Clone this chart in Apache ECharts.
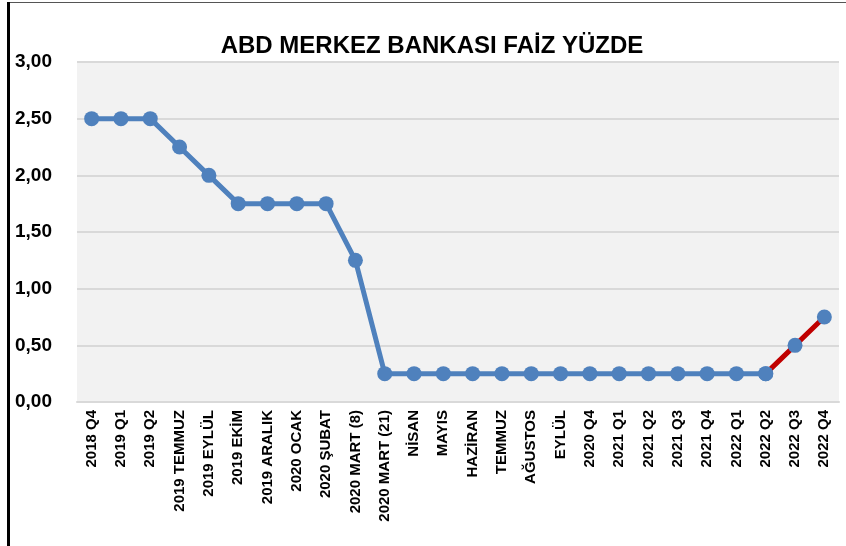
<!DOCTYPE html>
<html>
<head>
<meta charset="utf-8">
<script src="https://cdn.jsdelivr.net/npm/echarts@6/dist/echarts.min.js"></script>
<style>
  html, body { margin: 0; padding: 0; background: #fff; }
  #chart { width: 846px; height: 546px; }
</style>
</head>
<body>
<div id="chart"></div>
<script>
const categories = [
  '2018 Q4', '2019 Q1', '2019 Q2', '2019 TEMMUZ', '2019 EYLÜL', '2019 EKİM',
  '2019 ARALIK', '2020 OCAK', '2020 ŞUBAT', '2020 MART (8)', '2020 MART (21)',
  'NİSAN', 'MAYIS', 'HAZİRAN', 'TEMMUZ', 'AĞUSTOS', 'EYLÜL', '2020 Q4',
  '2021 Q1', '2021 Q2', '2021 Q3', '2021 Q4', '2022 Q1', '2022 Q2', '2022 Q3', '2022 Q4'
]
const rates = [
  2.5, 2.5, 2.5, 2.25, 2.0, 1.75,
  1.75, 1.75, 1.75, 1.25, 0.25,
  0.25, 0.25, 0.25, 0.25, 0.25, 0.25, 0.25,
  0.25, 0.25, 0.25, 0.25, 0.25, 0.25, 0.5, 0.75
]
const yTicks = [0, 0.5, 1, 1.5, 2, 2.5, 3]
// last points (from 2022 Q2) drawn with the red line
const redStart = categories.indexOf('2022 Q2')

const blueData = rates.map((v, i) => (i <= redStart ? v : null))
const redData = rates.map((v, i) => (i >= redStart ? v : null))

const font = 'Liberation Sans, Arial, sans-serif'
const chart = echarts.init(document.getElementById('chart'))

chart.setOption({
  animation: false,
  title: {
    text: 'ABD MERKEZ BANKASI FAİZ YÜZDE',
    left: 427,
    textAlign: 'center',
    top: 29,
    textStyle: { fontFamily: font, fontSize: 24, fontWeight: 'bold', color: '#000' }
  },
  grid: {
    left: 77, right: 7, top: 62, bottom: 144,
    show: true, backgroundColor: '#f2f2f2', borderWidth: 0
  },
  xAxis: {
    type: 'category',
    data: categories,
    boundaryGap: true,
    axisLine: { show: true, lineStyle: { color: '#d9d9d9', width: 2 } },
    axisTick: { show: false },
    axisLabel: {
      rotate: 90, interval: 0, margin: 8,
      fontFamily: font, fontSize: 15, fontWeight: 'bold', color: '#000'
    }
  },
  yAxis: {
    type: 'value',
    min: yTicks[0],
    max: yTicks[yTicks.length - 1],
    interval: 0.5,
    axisLine: { show: false },
    axisTick: { show: false },
    splitLine: { lineStyle: { color: '#d9d9d9', width: 2 } },
    axisLabel: {
      margin: 25,
      fontFamily: font, fontSize: 19, fontWeight: 'bold', color: '#000',
      formatter: v => v.toFixed(2).replace('.', ',')
    }
  },
  series: [
    {
      type: 'line',
      data: redData,
      symbol: 'circle',
      symbolSize: 15,
      lineStyle: { color: '#c00000', width: 5 },
      itemStyle: { color: '#4f81bd' },
      z: 3
    },
    {
      type: 'line',
      data: blueData,
      symbol: 'circle',
      symbolSize: 15,
      lineStyle: { color: '#4f81bd', width: 5 },
      itemStyle: { color: '#4f81bd' },
      z: 4
    }
  ],
  graphic: [
    { type: 'rect', shape: { x: 7, y: 2, width: 839, height: 1 }, style: { fill: '#555' } },
    { type: 'rect', shape: { x: 7, y: 2, width: 3, height: 544 }, style: { fill: '#000' } }
  ]
})
</script>
</body>
</html>
